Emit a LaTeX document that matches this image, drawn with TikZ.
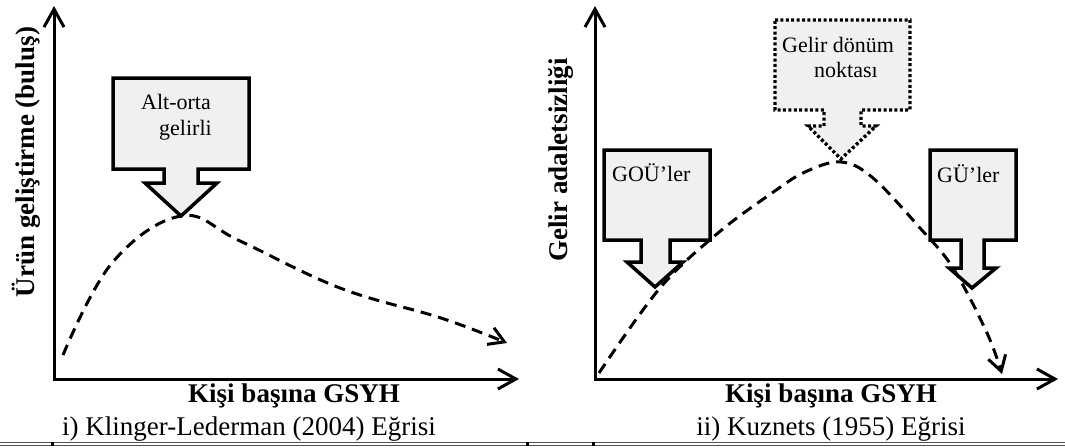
\documentclass[tikz,border=0pt]{standalone}
\usepackage{fontspec}
\setmainfont{Liberation Serif}
\usetikzlibrary{arrows.meta}
\definecolor{boxfill}{RGB}{240,240,240}
\definecolor{rulegray}{RGB}{80,80,80}
\begin{document}
\begin{tikzpicture}[x=1pt,y=-1pt,
 axis/.style={line width=3pt,line join=miter,
   {Straight Barb[length=18pt,width=20pt,line width=3pt]}-{Straight Barb[length=18pt,width=20pt,line width=3pt]}},
 curve/.style={line width=3pt, dash pattern=on 11pt off 7pt,
   -{Straight Barb[length=15pt,width=18pt,line width=3pt]}},
 callout/.style={line width=3.5pt, fill=boxfill, line join=miter},
 dotcallout/.style={line width=3.4pt, fill=boxfill, dash pattern=on 3pt off 2.4pt},
 biglabel/.style={font=\fontsize{27}{30}\selectfont\bfseries, inner sep=0pt},
 captext/.style={font=\fontsize{27}{30}\selectfont, inner sep=0pt},
 boxtext/.style={font=\fontsize{22}{24}\selectfont, inner sep=0pt, anchor=base west},
]
\useasboundingbox (0,0) rectangle (1065,447);

% ---------- left panel ----------
\coordinate (Y1) at (54,6);
\coordinate (O1) at (54,379);
\coordinate (X1) at (519,379);
\draw[axis] (Y1) -- (O1) -- (X1);

\coordinate (P1) at (181,216);
\draw[callout] (113,78) -- (249,78) -- (249,169) -- (198,169) -- (198,183) -- (217,183)
  -- (P1) -- (145,183) -- (164,183) -- (164,169) -- (113,169) -- cycle;
\node[boxtext] (t1) at (141,109) {Alt-orta};
\node[boxtext] (t2) at (159,135) {gelirli};

\draw[curve] plot[smooth, tension=0.65] coordinates
  {(63,355) (112,263) (P1) (240,241) (340,288) (441,318) (507,343)};

\node[biglabel, rotate=90, anchor=base] (yl1) at (34,162) {Ürün geliştirme (buluş)};
\node[biglabel, anchor=base] (xl1) at (294,402) {Kişi başına GSYH};
\node[captext, anchor=base] (c1) at (249,435) {i) Klinger-Lederman (2004) Eğrisi};

% ---------- right panel ----------
\coordinate (Y2) at (595,6);
\coordinate (O2) at (595,379);
\coordinate (X2) at (1058,379);
\draw[axis] (Y2) -- (O2) -- (X2);

\coordinate (P2) at (841,162);
\draw[dotcallout] (775,20) -- (910,20) -- (910,110) -- (861,110) -- (861,126) -- (876,126)
  -- (841,159) -- (808,126) -- (824,126) -- (824,110) -- (775,110) -- cycle;
\node[boxtext] (t3) at (782,52) {Gelir dönüm};
\node[boxtext] (t4) at (814,77) {noktası};

\draw[callout] (604,150) -- (710,150) -- (710,240) -- (670,240) -- (670,262) -- (683,262)
  -- (655,287) -- (627,262) -- (641,262) -- (641,240) -- (604,240) -- cycle;
\node[boxtext] (t5) at (612,181) {GOÜ’ler};

\draw[callout] (930,150) -- (1016,150) -- (1016,240) -- (984,240) -- (984,268) -- (996,268)
  -- (972,288) -- (949,268) -- (961,268) -- (961,240) -- (930,240) -- cycle;
\node[boxtext] (t6) at (937,182) {GÜ’ler};

\draw[curve] plot[smooth, tension=0.6] coordinates
  {(599,373) (660,288) (718,233) (772,193) (805,172) (P2) (873,178) (920,228) (953,268) (987,333) (1002,374)};

\node[biglabel, rotate=90, anchor=base] (yl2) at (567,160) {Gelir adaletsizliği};
\node[biglabel, anchor=base] (xl2) at (831,402) {Kişi başına GSYH};
\node[captext, anchor=base] (c2) at (831,435) {ii) Kuznets (1955) Eğrisi};

% ---------- bottom rule ----------
\draw[rulegray, line width=0.9pt] (0,442.7) -- (1065,442.7);
\draw[rulegray, line width=0.9pt] (0,445.5) -- (1065,445.5);
\fill (51,442) rectangle (54,446);
\fill (526,442) rectangle (529,446);
\fill (592,442) rectangle (595,446);
\end{tikzpicture}
\end{document}
